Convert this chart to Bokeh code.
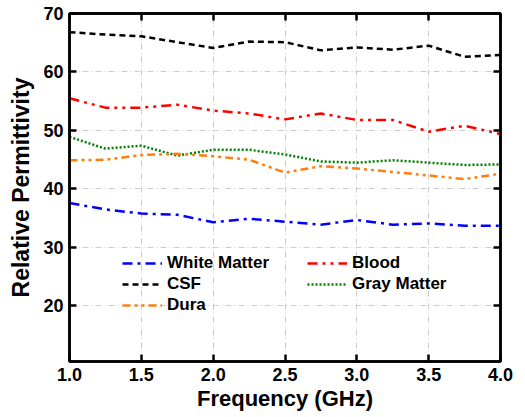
from bokeh.plotting import figure
from bokeh.models import Legend, LegendItem, LinearAxis, Range1d, FixedTicker
from bokeh.embed import file_html
from bokeh.resources import INLINE

freq = [1.0, 1.25, 1.5, 1.75, 2.0, 2.25, 2.5, 2.75, 3.0, 3.25, 3.5, 3.75, 4.0]
white_matter = [37.6, 36.5, 35.8, 35.6, 34.3, 34.9, 34.4, 33.9, 34.7, 33.9, 34.1, 33.7, 33.7]
blood = [55.5, 53.9, 53.9, 54.4, 53.4, 52.9, 51.9, 52.9, 51.8, 51.8, 49.8, 50.8, 49.4]
csf = [66.8, 66.4, 66.1, 65.1, 64.1, 65.2, 65.1, 63.7, 64.2, 63.8, 64.5, 62.6, 62.9]
gray_matter = [48.9, 46.9, 47.4, 45.7, 46.7, 46.7, 45.9, 44.7, 44.5, 44.9, 44.5, 44.1, 44.2]
dura = [44.9, 45.0, 45.8, 46.0, 45.6, 45.0, 42.8, 43.9, 43.5, 42.9, 42.3, 41.7, 42.6]

x_ticks = [1.0, 1.5, 2.0, 2.5, 3.0, 3.5, 4.0]
y_ticks = [20, 30, 40, 50, 60, 70]

FONT = "Liberation Sans"

p = figure(width=525, height=417, output_backend="svg", toolbar_location=None,
           x_range=Range1d(1.0, 4.0), y_range=Range1d(10.5, 70),
           min_border_left=69, min_border_right=25, min_border_top=13, min_border_bottom=56)

p.outline_line_color = "black"
p.outline_line_width = 2.5

for ax in p.xaxis:
    ax.ticker = FixedTicker(ticks=x_ticks)
    ax.major_label_overrides = {t: f"{t:.1f}" for t in x_ticks}
for ax in p.yaxis:
    ax.ticker = FixedTicker(ticks=y_ticks)

def style_axis(ax):
    ax.axis_line_color = "black"
    ax.axis_line_width = 2.5
    ax.major_tick_in = 7
    ax.major_tick_out = 0
    ax.major_tick_line_width = 2.5
    ax.major_tick_line_color = "black"
    ax.minor_tick_line_color = None
    ax.major_label_text_font = FONT
    ax.major_label_text_font_style = "bold"
    ax.major_label_text_font_size = "18px"
    ax.major_label_text_color = "black"
    ax.axis_label_text_font = FONT
    ax.axis_label_text_font_style = "bold"
    ax.axis_label_text_font_size = "22px"
    ax.axis_label_text_color = "black"

style_axis(p.xaxis[0])
style_axis(p.yaxis[0])
p.xaxis.axis_label = "Frequency (GHz)"
p.yaxis.axis_label = "Relative Permittivity"
p.yaxis.axis_label_text_font_size = "23px"
p.xaxis.major_label_standoff = 6
p.yaxis.major_label_standoff = 6
p.xaxis.axis_label_standoff = 2
p.yaxis.axis_label_standoff = 6

top = LinearAxis(ticker=FixedTicker(ticks=x_ticks))
style_axis(top)
top.major_label_text_color = None
top.major_label_text_font_size = "1px"
top.major_label_standoff = 0
right = LinearAxis(ticker=FixedTicker(ticks=y_ticks))
style_axis(right)
right.major_label_text_color = None
right.major_label_text_font_size = "1px"
right.major_label_standoff = 0
p.add_layout(top, "above")
p.add_layout(right, "right")

p.xgrid.ticker = FixedTicker(ticks=x_ticks)
p.ygrid.ticker = FixedTicker(ticks=y_ticks)
for g in (p.xgrid[0], p.ygrid[0]):
    g.grid_line_color = "#cccccc"
    g.grid_line_width = 1
    g.grid_line_dash = "6 3 1 3"

lw = 2.5
r_wm = p.line(freq, white_matter, line_color="#0000ff", line_width=lw, line_dash="10 5 3 5")
r_bl = p.line(freq, blood, line_color="#ff0000", line_width=lw, line_dash="10 5 3 5 3 5")
r_csf = p.line(freq, csf, line_color="black", line_width=lw, line_dash="6 4")
r_gm = p.line(freq, gray_matter, line_color="#008000", line_width=lw, line_dash="2 2")
r_du = p.line(freq, dura, line_color="#ff7f0e", line_width=lw, line_dash="8 4 3 4 3 4")

def make_legend(items, loc):
    lg = Legend(items=items, location=loc)
    lg.border_line_color = None
    lg.background_fill_alpha = 0
    lg.label_text_font = FONT
    lg.label_text_font_style = "bold"
    lg.label_text_font_size = "17px"
    lg.label_text_color = "black"
    lg.label_height = 16
    lg.glyph_width = 40
    lg.glyph_height = 16
    lg.spacing = 1
    lg.label_standoff = 5
    lg.padding = 0
    lg.margin = 0
    return lg

leg1 = make_legend([LegendItem(label="White Matter", renderers=[r_wm]),
                    LegendItem(label="CSF", renderers=[r_csf]),
                    LegendItem(label="Dura", renderers=[r_du])], (53, 46))
leg2 = make_legend([LegendItem(label="Blood", renderers=[r_bl]),
                    LegendItem(label="Gray Matter", renderers=[r_gm])], (238, 67))
p.add_layout(leg1, "center")
p.add_layout(leg2, "center")

open("out.html", "w").write(file_html(p, INLINE))
